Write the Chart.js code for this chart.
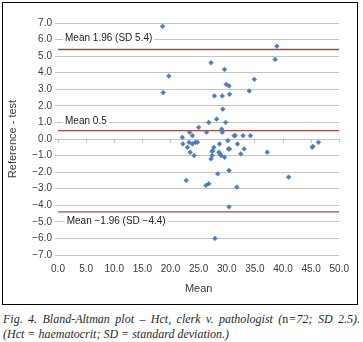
<!DOCTYPE html>
<html>
<head>
<meta charset="utf-8">
<script src="https://cdn.jsdelivr.net/npm/chart.js@4.4.1/dist/chart.umd.min.js"></script>
<style>
  html, body { margin: 0; padding: 0; background: #fff; }
  body { width: 363px; height: 342px; position: relative; overflow: hidden; }
  #frame { position: absolute; left: 2px; top: 2px; width: 354px; height: 301px; border: 1px solid #000; }
  #frame canvas { display: block; }
  #caption { position: absolute; left: 3px; top: 312px; width: 357px;
    font-family: "Liberation Serif", "DejaVu Serif", serif; font-style: italic; font-size: 12px;
    line-height: 15px; color: #2a2a2a; }
  #caption .l1 { text-align: justify; text-align-last: justify; white-space: nowrap; }
  #caption .up { font-style: normal; }
</style>
</head>
<body>
<div id="frame"><canvas id="c" width="354" height="301"></canvas></div>
<div id="caption">
  <div class="l1">Fig. 4. Bland-Altman plot – Hct, clerk v. pathologist (<span class="up">n</span>=72; SD 2.5).</div>
  <div>(Hct = haematocrit; SD = standard deviation.)</div>
</div>
<script>
// Mean of the two measurements (x) and difference reference - test (y)
const meanValues = [18.6, 18.7, 19.7, 38.9, 38.6, 27.2, 29.6, 29.9, 30.4, 34.9,
  34.0, 27.8, 29.2, 30.5, 29.3, 28.2, 26.8, 29.8, 25.0, 29.1,
  29.2, 23.4, 26.4, 22.1, 23.9, 31.3, 31.5, 32.9, 34.2, 22.2,
  23.3, 23.9, 24.4, 24.8, 23.0, 23.5, 24.2, 22.8, 27.7, 27.5,
  27.4, 27.4, 27.2, 28.7, 28.6, 28.8, 29.0, 29.6, 30.2, 30.3,
  30.5, 31.9, 32.5, 33.1, 37.2, 45.2, 45.3, 46.3, 41.0, 30.4,
  28.4, 26.3, 26.8, 31.8, 30.4, 27.9];
const diffValues = [6.8, 2.8, 3.8, 5.6, 4.8, 4.6, 4.2, 3.3, 3.2, 3.6,
  2.9, 2.6, 2.6, 2.7, 1.8, 1.2, 1.0, 1.0, 0.7, 0.6,
  0.4, 0.4, 0.4, 0.1, 0.2, 0.2, 0.2, 0.2, 0.2, -0.3,
  -0.2, -0.3, -0.2, -0.2, -0.5, -0.8, -1.0, -2.5, -0.5, -0.7,
  -0.75, -1.0, -1.2, -0.3, -0.8, -0.9, -1.0, -1.1, -0.1, -0.6,
  -0.6, -0.3, -0.9, -0.6, -0.8, -0.5, -0.45, -0.2, -2.3, -1.9,
  -2.1, -2.8, -2.7, -2.9, -4.1, -6.0];

// Reference lines: upper limit, mean difference, lower limit
const limitValues = [5.4, 0.5, -4.4];
const limitLabels = ["Mean 1.96 (SD 5.4)", "Mean 0.5", "Mean \u22121.96 (SD \u22124.4)"];
const xRange = [0, 50];
const yRange = [-7, 7];

// label anchor (data units) for each reference-line caption
const labelAnchorX = [1.25, 1.25, 1.55];
const labelAnchorY = [6.1, 1.1, -4.95];

const fmt = v => Number(v).toFixed(1).replace('-', '\u2212');
const FONT = '"Liberation Sans", Arial, sans-serif';
const TEXT = '#3a3a3a';
const GRID = '#c4c4c4';
const LINE = '#a94843';
const POINT = '#4a7ebb';

const scatterData = meanValues.map((x, i) => ({ x: x, y: diffValues[i] }));
const lineSets = limitValues.map(v => ({
  type: 'line',
  data: xRange.map(x => ({ x: x, y: v })),
  borderColor: LINE,
  borderWidth: 1.3,
  pointRadius: 0,
  fill: false,
  order: 2
}));

const labelPlugin = {
  id: 'limitLabels',
  afterDatasetsDraw(chart) {
    const { ctx, scales } = chart;
    ctx.save();
    ctx.font = '10px ' + FONT;
    ctx.textBaseline = 'middle';
    ctx.textAlign = 'left';
    limitLabels.forEach((t, i) => {
      const px = scales.x.getPixelForValue(labelAnchorX[i]);
      const py = scales.y.getPixelForValue(labelAnchorY[i]);
      const w = ctx.measureText(t).width;
      ctx.fillStyle = '#fff';
      ctx.fillRect(px - 2, py - 6, w + 4, 12);
      ctx.fillStyle = '#222';
      ctx.fillText(t, px, py);
    });
    ctx.restore();
  }
};

new Chart(document.getElementById('c'), {
  type: 'scatter',
  data: {
    datasets: [
      {
        type: 'scatter',
        data: scatterData,
        pointStyle: 'rectRot',
        pointRadius: 2.4,
        backgroundColor: POINT,
        borderColor: POINT,
        borderWidth: 0.5,
        order: 1
      },
      ...lineSets
    ]
  },
  options: {
    responsive: false,
    animation: false,
    events: [],
    layout: { padding: { top: 20, right: 14, bottom: 0, left: 0 } },
    plugins: { legend: { display: false }, tooltip: { enabled: false } },
    scales: {
      x: {
        type: 'linear',
        min: xRange[0], max: xRange[1],
        ticks: { stepSize: 5, callback: fmt, color: TEXT, font: { family: FONT, size: 10 }, padding: 8, maxRotation: 0 },
        grid: { display: false, drawTicks: false },
        border: { display: false },
        title: { display: true, text: 'Mean', color: TEXT, font: { family: FONT, size: 11 }, padding: { top: 0, bottom: 8 } },
        afterFit: s => { s.height = 49; }
      },
      x2: {
        type: 'linear',
        axis: 'x',
        position: { y: 0 },
        min: xRange[0], max: xRange[1],
        ticks: { display: false, stepSize: 5 },
        grid: { drawOnChartArea: false, drawTicks: true, tickLength: 3, color: GRID },
        border: { display: true, color: GRID }
      },
      y: {
        type: 'linear',
        min: yRange[0], max: yRange[1],
        ticks: { stepSize: 1, callback: fmt, color: TEXT, font: { family: FONT, size: 10 }, padding: 3 },
        grid: { color: GRID, tickLength: 3, drawTicks: true },
        border: { display: false },
        title: { display: true, text: 'Reference - test', color: TEXT, font: { family: FONT, size: 11 }, padding: { top: 3, bottom: 0 } },
        afterFit: s => { s.width = 55; }
      }
    }
  },
  plugins: [labelPlugin]
});
</script>
</body>
</html>
